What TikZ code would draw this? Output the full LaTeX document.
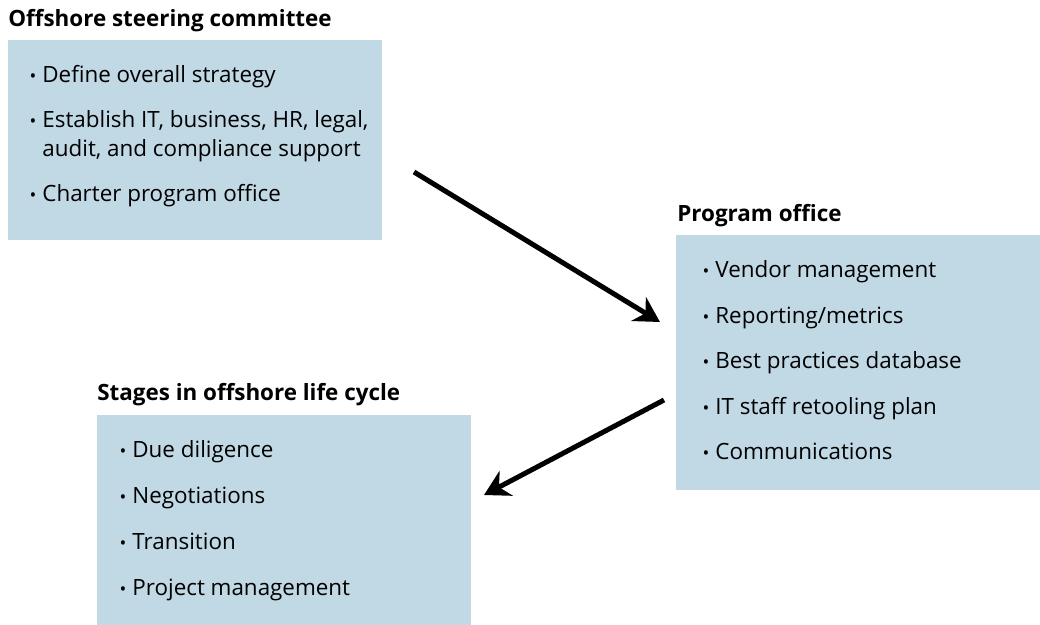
\documentclass[tikz,border=0pt]{standalone}
\usepackage{fontspec}
\setmainfont{Open Sans}
\usetikzlibrary{arrows.meta}

\definecolor{panelblue}{RGB}{193,216,229}

\tikzset{
    panel/.style={fill=panelblue, anchor=north west, inner sep=0pt},
    heading/.style={anchor=base west, inner sep=0pt, font=\bfseries\fontsize{11.2}{13}\selectfont},
    entry/.style={anchor=base west, inner sep=0pt, font=\fontsize{11.2}{13}\selectfont},
    flow/.style={line width=2.5pt, -{Stealth[length=12.5pt,width=14pt]}},
}
\newcommand{\dotmark}{\llap{{\fontsize{9}{9}\selectfont\textbullet}\hspace{3pt}}}

\begin{document}
\begin{tikzpicture}[x=0.5pt,y=-0.5pt]
\useasboundingbox (0,0) rectangle (1040,625);

% Steering committee panel
\node[heading] (steer-title) at (8,27) {Offshore steering committee};
\node[panel, minimum width=187pt, minimum height=100pt] (steer) at (8,40) {};
\node[entry] (steer-1) at (42,83) {\dotmark Define overall strategy};
\node[entry] (steer-2) at (42,128) {\dotmark Establish IT, business, HR, legal,};
\node[entry] (steer-2b) at (42,157) {audit, and compliance support};
\node[entry] (steer-3) at (42,202) {\dotmark Charter program office};

% Program office panel
\node[heading] (prog-title) at (677,222) {Program office};
\node[panel, minimum width=182pt, minimum height=127.5pt] (prog) at (676,235) {};
\foreach \txt [count=\i] in {Vendor management, Reporting/metrics,
    Best practices database, IT staff retooling plan, Communications} {
    \node[entry] (prog-\i) at (715,278+45.5*\i-45.5) {\dotmark\txt};
}

% Life cycle panel
\node[heading] (stages-title) at (97,401) {Stages in offshore life cycle};
\node[panel, minimum width=187pt, minimum height=105pt] (stages) at (97,415) {};
\foreach \txt [count=\i] in {Due diligence, Negotiations, Transition,
    Project management} {
    \node[entry] (stages-\i) at (132,458+45.7*\i-45.7) {\dotmark\txt};
}

% Arrows between the panels
\coordinate (steer-out) at (414,172);
\coordinate (prog-in) at (660,322);
\coordinate (prog-out) at (664,400);
\coordinate (stages-in) at (484,495);
\draw[flow] (steer-out) -- (prog-in);
\draw[flow] (prog-out) -- (stages-in);

\end{tikzpicture}
\end{document}
